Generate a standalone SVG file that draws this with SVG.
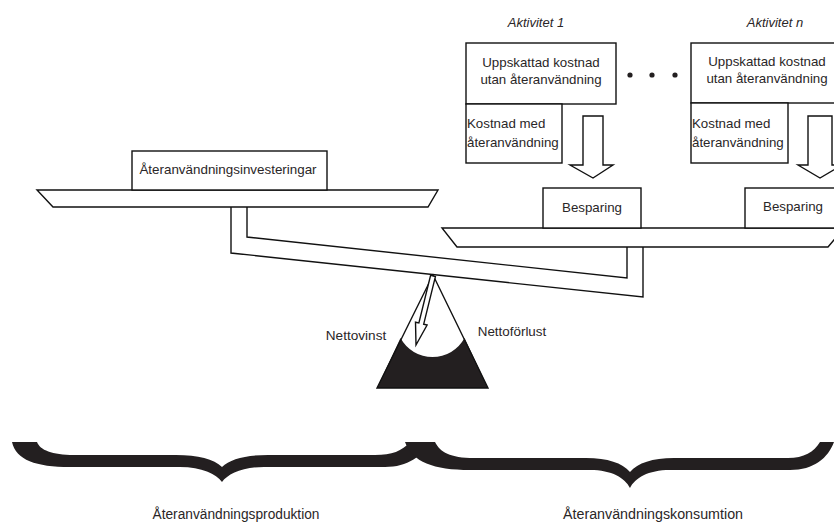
<svg xmlns="http://www.w3.org/2000/svg" width="834" height="522" viewBox="0 0 834 522">
<style>
.ln{fill:none;stroke:#111;stroke-width:1.4;stroke-linejoin:miter}
.bx{fill:#fff;stroke:#111;stroke-width:1.4}
.t{font-family:"Liberation Sans",Arial,sans-serif;font-size:13.3px;fill:#2a2627}
.c{text-anchor:middle}
.i{font-style:italic;font-size:13px}
.blk{fill:#231f20}
</style>
<rect width="834" height="522" fill="#fff"/>

<g id="connectors">
  <!-- left beam support and lever -->
  <polyline class="ln" points="247,207 247,237 627,278 627,247"/>
  <polyline class="ln" points="231,207 231,253 643,297 643,247"/>
  <!-- downward hollow arrows -->
  <polygon class="bx" points="583,116 603,116 603,165 613,165 593,178 570,165 583,165"/>
  <polygon class="bx" points="808,116 832,116 832,165 842,165 820,178 798,165 808,165"/>
</g>

<g id="fulcrum">
  <path class="blk" d="M400.5,338 L377,388 L488,388 L464.5,338 A36.4,36.4 0 0 1 400.5,338 Z"/>
  <polygon class="ln" points="433,275 377,388 488,388"/>
  <polygon class="bx" points="430.6,275.4 435.4,276.6 423.7,324.2 427.1,325 416,345 415.5,322.2 418.9,323"/>
</g>

<g id="beam-left">
  <polygon class="bx" points="37,190 438,190 428,207 53,207"/>
</g>
<g id="beam-right">
  <polygon class="bx" points="442,228 844,228 828,247 457,247"/>
</g>

<g id="investeringar">
  <rect class="bx" x="132" y="151" width="195" height="39"/>
  <text class="t c" x="228" y="174" style="font-size:13.4px">Återanvändningsinvesteringar</text>
</g>

<g id="aktivitet1">
  <text class="t c i" x="536" y="27">Aktivitet 1</text>
  <rect class="bx" x="466" y="43" width="150" height="61"/>
  <text class="t c" x="541" y="67">Uppskattad kostnad</text>
  <text class="t c" x="541" y="84">utan återanvändning</text>
  <rect class="bx" x="466" y="104" width="96" height="59"/>
  <text class="t" x="467" y="128">Kostnad med</text>
  <text class="t" x="467" y="147">återanvändning</text>
</g>

<g id="dots">
  <circle class="blk" cx="630" cy="75" r="2.6"/>
  <circle class="blk" cx="652" cy="75" r="2.6"/>
  <circle class="blk" cx="675" cy="75" r="2.6"/>
</g>

<g id="aktivitetn">
  <text class="t c i" x="775" y="27">Aktivitet n</text>
  <rect class="bx" x="691" y="43" width="155" height="60"/>
  <text class="t c" x="767" y="66">Uppskattad kostnad</text>
  <text class="t c" x="767" y="83">utan återanvändning</text>
  <rect class="bx" x="691" y="103" width="97" height="60"/>
  <text class="t" x="692" y="128">Kostnad med</text>
  <text class="t" x="692" y="147">återanvändning</text>
</g>

<g id="besparing1">
  <rect class="bx" x="543" y="188" width="98" height="40"/>
  <text class="t c" x="592" y="212">Besparing</text>
</g>
<g id="besparingn">
  <rect class="bx" x="745" y="188" width="98" height="40"/>
  <text class="t c" x="793" y="211">Besparing</text>
</g>

<g id="labels">
  <text class="t c" x="356" y="340" style="font-size:13.6px">Nettovinst</text>
  <text class="t c" x="512" y="336" style="font-size:13.4px">Nettoförlust</text>
</g>

<g id="brace-left">
  <path class="blk" d="M12,442 C16,460 36,467 70,467 L180,467 C202,467 216,474 222,482 C228,474 242,467 264,467 L385,467 C408,467 422,456 430,442 L410,442 C402,451 392,455 375,455 L268,455 C246,455 230,459 222,467 C214,459 198,455 176,455 L74,455 C52,455 40,450 37,442 Z"/>
  <text class="t c" x="236" y="519" style="font-size:14px" textLength="167" lengthAdjust="spacingAndGlyphs">Återanvändningsproduktion</text>
</g>

<g id="brace-right">
  <path class="blk" d="M405,442 C412,462 434,470 470,470 L590,470 C612,470 625,478 630,488 C635,478 648,470 670,470 L790,470 C814,470 828,458 834,442 L820,442 C814,452 804,458 788,458 L674,458 C652,458 638,463 630,472 C622,463 608,458 586,458 L474,458 C450,458 440,452 435,442 Z"/>
  <text class="t c" x="653" y="519" style="font-size:14px" textLength="180" lengthAdjust="spacingAndGlyphs">Återanvändningskonsumtion</text>
</g>
</svg>
